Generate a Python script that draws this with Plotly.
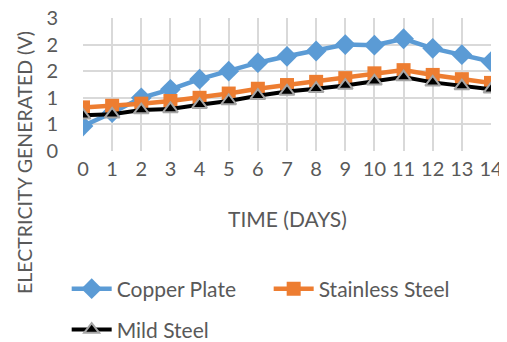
import plotly.graph_objects as go

days = list(range(15))
x_labels = [str(d) for d in days]
copper = [0.47, 0.72, 1.0, 1.16, 1.35, 1.50, 1.66, 1.78, 1.88, 2.0, 1.99, 2.11, 1.93, 1.81, 1.68]
stainless = [0.82, 0.85, 0.89, 0.94, 1.0, 1.08, 1.17, 1.24, 1.30, 1.37, 1.46, 1.52, 1.43, 1.35, 1.28]
mild = [0.67, 0.69, 0.77, 0.79, 0.87, 0.94, 1.04, 1.12, 1.17, 1.23, 1.31, 1.39, 1.29, 1.22, 1.16]
y_ticks = [0, 0.5, 1, 1.5, 2, 2.5]
y_tick_labels = ["0", "1", "1", "2", "2", "3"]

FONT = "Lato, Open Sans, sans-serif"
GRAY = "#595959"

fig = go.Figure()
fig.add_trace(go.Scatter(
    x=days, y=copper, name="Copper Plate", mode="lines+markers",
    line=dict(color="#5B9BD5", width=4.5),
    marker=dict(symbol="diamond", size=16, color="#5B9BD5")))
fig.add_trace(go.Scatter(
    x=days, y=stainless, name="Stainless Steel", mode="lines+markers",
    line=dict(color="#ED7D31", width=4.5),
    marker=dict(symbol="square", size=14, color="#ED7D31")))
fig.add_trace(go.Scatter(
    x=days, y=mild, name="Mild Steel", mode="lines+markers", legend="legend2",
    line=dict(color="#000000", width=4),
    marker=dict(symbol="triangle-up", size=13, color="#000000",
                line=dict(color="#A5A5A5", width=2))))

# page body adds an 8px offset, so the figure is 8px smaller than the window
fig.update_layout(
    width=499, height=334,
    margin=dict(l=75, r=16, t=10, b=191, autoexpand=False),
    paper_bgcolor="white", plot_bgcolor="white",
    font=dict(family=FONT, color=GRAY, size=20),
    showlegend=True,
    legend=dict(orientation="h", x=-0.04, y=-1.038, xanchor="left", yanchor="middle",
                font=dict(size=21, color=GRAY), entrywidth=147, itemwidth=40,
                bgcolor="rgba(0,0,0,0)"),
    legend2=dict(orientation="h", x=-0.04, y=-1.345, xanchor="left", yanchor="middle",
                 font=dict(size=21, color=GRAY), itemwidth=40,
                 bgcolor="rgba(0,0,0,0)"),
    xaxis=dict(range=[0, 14], tickmode="array", tickvals=days, ticktext=x_labels,
               tickangle=0, showgrid=True, gridcolor="#D9D9D9", gridwidth=1.5,
               zeroline=False, showline=False, ticks="", ticklabelstandoff=4,
               ticklabeloverflow="allow",
               automargin=False, tickfont=dict(size=20, color=GRAY)),
    yaxis=dict(range=[0, 2.5], tickmode="array", tickvals=y_ticks, ticktext=y_tick_labels,
               showgrid=True, gridcolor="#D9D9D9", gridwidth=1.5,
               zeroline=False, showline=False, ticks="", ticklabelstandoff=24,
               ticklabeloverflow="allow",
               automargin=False, tickfont=dict(size=20, color=GRAY)),
)
fig.add_annotation(text="TIME (DAYS)",
                   xref="paper", yref="paper", x=0.501, y=-0.504,
                   xanchor="center", yanchor="middle", showarrow=False,
                   font=dict(size=21, color=GRAY))
fig.add_annotation(text="ELECTRICITY GENERATED (V)", textangle=-90,
                   xref="paper", yref="paper", x=-0.142, y=-0.09,
                   xanchor="center", yanchor="middle", showarrow=False,
                   font=dict(size=19.5, color=GRAY))

fig.write_html("out.html")
